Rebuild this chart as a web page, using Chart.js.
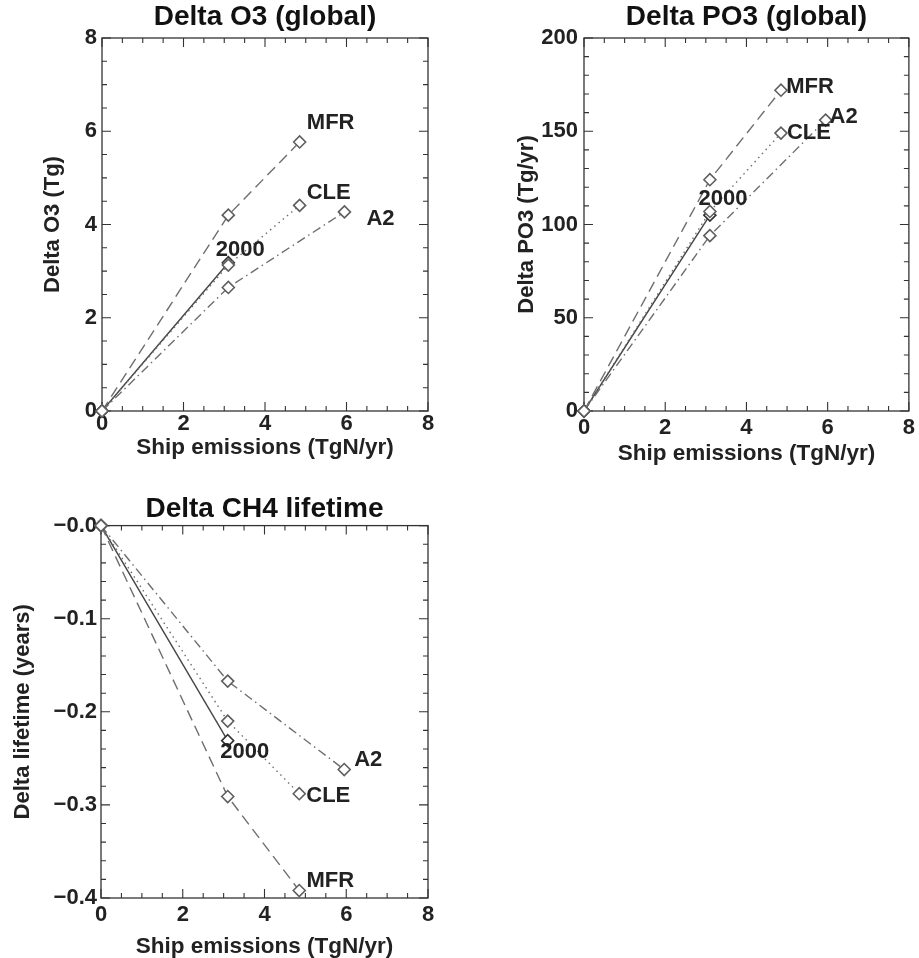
<!DOCTYPE html>
<html>
<head>
<meta charset="utf-8">
<script src="https://cdn.jsdelivr.net/npm/chart.js@4.4.0/dist/chart.umd.min.js"></script>
<style>
  html, body { margin: 0; padding: 0; background: #fff; overflow: hidden; }
  body { width: 919px; height: 958px; position: relative; }
  canvas { position: absolute; }
  #o3Chart { left: 0; top: 0; }
  #po3Chart { left: 459px; top: 0; }
  #ch4Chart { left: 0; top: 479px; }
</style>
</head>
<body>
<canvas id="o3Chart" width="459" height="479"></canvas>
<canvas id="po3Chart" width="460" height="479"></canvas>
<canvas id="ch4Chart" width="459" height="490"></canvas>
<script>
// scenario order: MFR, CLE, A2, then 2000 on top
const scenarios = ['MFR', 'CLE', 'A2', '2000'];

// ship emissions (TgN/yr)
const emisMFR = [0, 3.1, 4.85];
const emisCLE = [0, 3.1, 4.85];
const emisA2 = [0, 3.1, 5.95];
const emis2000 = [0, 3.1];

// Delta O3 (Tg)
const o3MFR = [0, 4.2, 5.77];
const o3CLE = [0, 3.13, 4.41];
const o3A2 = [0, 2.65, 4.27];
const o3_2000 = [0, 3.18];

// Delta PO3 (Tg/yr)
const po3MFR = [0, 124, 172];
const po3CLE = [0, 107, 149];
const po3A2 = [0, 94, 156];
const po3_2000 = [0, 105];

// Delta CH4 lifetime (years)
const ch4MFR = [0, -0.291, -0.392];
const ch4CLE = [0, -0.21, -0.288];
const ch4A2 = [0, -0.167, -0.262];
const ch4_2000 = [0, -0.231];

// tick values / labels
const xTicks = [0, 2, 4, 6, 8];
const o3Ticks = [0, 2, 4, 6, 8];
const po3Ticks = [0, 50, 100, 150, 200];
const ch4Ticks = [-0.4, -0.3, -0.2, -0.1, 0];
const ch4TickLabels = ['\u22120.4', '\u22120.3', '\u22120.2', '\u22120.1', '\u22120.0'];

Chart.defaults.font.family = '"Liberation Sans", Arial, Helvetica, sans-serif';
Chart.defaults.color = '#1a1a1a';

const ink = '#222';

const lineStyle = {
    'MFR': { borderColor: '#6e6e6e', borderDash: [11, 6], pointBorderColor: '#5e5e5e' },
    'CLE': { borderColor: '#6e6e6e', borderDash: [1.5, 4], pointBorderColor: '#5e5e5e' },
    'A2': { borderColor: '#6e6e6e', borderDash: [9, 4, 1.5, 4], pointBorderColor: '#5e5e5e' },
    '2000': { borderColor: '#444', borderDash: [], pointBorderColor: '#333' },
};

function pts(xs, ys) {
    return ys.map((v, i) => ({ x: xs[i], y: v }));
}

function makeDatasets(series) {
    return scenarios.map((name, i) => Object.assign({
        label: name,
        data: series[i],
        borderWidth: 1.4,
        pointStyle: 'rectRot',
        pointRadius: 6,
        pointBorderWidth: 1.6,
        pointBackgroundColor: '#fff',
        clip: false,
        tension: 0,
    }, lineStyle[name]));
}

// box round the plot with inward major/minor ticks (IDL style)
const framePlugin = {
    id: 'frame',
    beforeDatasetsDraw(chart, args, opts) {
        const { ctx, chartArea: a, scales: { x, y } } = chart;
        ctx.save();
        ctx.strokeStyle = '#333';
        ctx.lineWidth = 1.3;
        ctx.strokeRect(a.left, a.top, a.right - a.left, a.bottom - a.top);
        ctx.lineWidth = 1.1;
        ctx.beginPath();
        const n = Math.round((x.max - x.min) / opts.xMinor);
        for (let i = 0; i <= n; i++) {
            const v = x.min + i * opts.xMinor;
            const px = x.getPixelForValue(v);
            const len = Math.abs(v / 2 - Math.round(v / 2)) < 1e-6 ? 9 : 5;
            ctx.moveTo(px, a.bottom); ctx.lineTo(px, a.bottom - len);
            ctx.moveTo(px, a.top); ctx.lineTo(px, a.top + len);
        }
        const m = Math.round((y.max - y.min) / opts.yMinor);
        const every = Math.round(opts.yMajor / opts.yMinor);
        for (let i = 0; i <= m; i++) {
            const py = y.getPixelForValue(y.min + i * opts.yMinor);
            const len = i % every === 0 ? 9 : 5;
            ctx.moveTo(a.left, py); ctx.lineTo(a.left + len, py);
            ctx.moveTo(a.right, py); ctx.lineTo(a.right - len, py);
        }
        ctx.stroke();
        ctx.restore();
    }
};

// scenario names next to the last point of each line
const tagPlugin = {
    id: 'tags',
    afterDatasetsDraw(chart, args, opts) {
        const { ctx } = chart;
        ctx.save();
        ctx.font = 'bold 22px "Liberation Sans", Arial, sans-serif';
        ctx.fillStyle = ink;
        ctx.textAlign = 'center';
        ctx.textBaseline = 'middle';
        chart.data.datasets.forEach((ds, i) => {
            const meta = chart.getDatasetMeta(i);
            const p = meta.data[meta.data.length - 1];
            const off = opts.offsets[i];
            ctx.fillText(ds.label, p.x + off[0], p.y + off[1]);
        });
        ctx.restore();
    }
};

function panel(id, cfg) {
    return new Chart(document.getElementById(id), {
        type: 'line',
        data: { datasets: makeDatasets(cfg.series) },
        plugins: [framePlugin, tagPlugin],
        options: {
            responsive: false,
            animation: false,
            layout: { padding: { left: 0, right: cfg.padRight, top: 0, bottom: 0 } },
            plugins: {
                legend: { display: false },
                tooltip: { enabled: false },
                title: {
                    display: true, text: cfg.title, fullSize: false, color: '#111',
                    font: { size: 28, weight: 'bold' },
                    padding: cfg.titlePad,
                },
                frame: { xMinor: 0.5, yMinor: cfg.yMinor, yMajor: cfg.yMajor },
                tags: { offsets: cfg.tagOffsets },
            },
            scales: {
                x: {
                    type: 'linear', min: 0, max: 8,
                    afterFit: s => { s.height = cfg.xHeight; },
                    afterBuildTicks: s => { s.ticks = xTicks.map(v => ({ value: v })); },
                    grid: { display: false, drawTicks: false },
                    border: { display: false },
                    ticks: { font: { size: 22, weight: 'bold' }, color: ink, padding: cfg.xTickPad, maxRotation: 0 },
                    title: {
                        display: true, text: 'Ship emissions (TgN/yr)', color: ink,
                        font: { size: 22.5, weight: 'bold' }, padding: { top: 0, bottom: cfg.xTitlePad },
                    },
                },
                y: {
                    type: 'linear', min: cfg.yMin, max: cfg.yMax,
                    afterFit: s => { s.width = cfg.yWidth; },
                    afterBuildTicks: s => { s.ticks = cfg.yTicks.map(v => ({ value: v })); },
                    grid: { display: false, drawTicks: false },
                    border: { display: false },
                    ticks: {
                        font: { size: 22, weight: 'bold' }, color: ink, padding: cfg.yTickPad,
                        callback: cfg.yLabels ? (v, i) => cfg.yLabels[i] : (v => v),
                    },
                    title: {
                        display: true, text: cfg.yTitle, color: ink,
                        font: { size: 22, weight: 'bold' }, padding: { top: cfg.yTitlePad, bottom: 0 },
                    },
                },
            },
        },
    });
}

panel('o3Chart', {
    title: 'Delta O3 (global)',
    yTitle: 'Delta O3 (Tg)',
    series: [pts(emisMFR, o3MFR), pts(emisCLE, o3CLE), pts(emisA2, o3A2), pts(emis2000, o3_2000)],
    tagOffsets: [[31, -19], [29, -12], [36, 7], [12, -13]],
    yMin: 0, yMax: 8, yTicks: o3Ticks, yMinor: 0.5, yMajor: 2,
    padRight: 31, yWidth: 102, xHeight: 68,
    titlePad: { top: 0, bottom: 4.4 },
    xTickPad: 0, xTitlePad: 17.8, yTickPad: 5, yTitlePad: 40,
});

panel('po3Chart', {
    title: 'Delta PO3 (global)',
    yTitle: 'Delta PO3 (Tg/yr)',
    series: [pts(emisMFR, po3MFR), pts(emisCLE, po3CLE), pts(emisA2, po3A2), pts(emis2000, po3_2000)],
    tagOffsets: [[29, -3], [28, 0], [18, -3], [13, -16]],
    yMin: 0, yMax: 200, yTicks: po3Ticks, yMinor: 10, yMajor: 50,
    padRight: 9, yWidth: 125, xHeight: 68,
    titlePad: { top: 0, bottom: 4.4 },
    xTickPad: 4, xTitlePad: 11.8, yTickPad: 6, yTitlePad: 55,
});

panel('ch4Chart', {
    title: 'Delta CH4 lifetime',
    yTitle: 'Delta lifetime (years)',
    series: [pts(emisMFR, ch4MFR), pts(emisCLE, ch4CLE), pts(emisA2, ch4A2), pts(emis2000, ch4_2000)],
    tagOffsets: [[31, -10], [29, 2], [24, -10], [17, 11]],
    yMin: -0.4, yMax: 0, yTicks: ch4Ticks, yLabels: ch4TickLabels, yMinor: 0.02, yMajor: 0.1,
    padRight: 31, yWidth: 101, xHeight: 71,
    titlePad: { top: 13, bottom: 0 },
    xTickPad: 4, xTitlePad: 8.5, yTickPad: 4, yTitlePad: 10,
});
</script>
</body>
</html>
